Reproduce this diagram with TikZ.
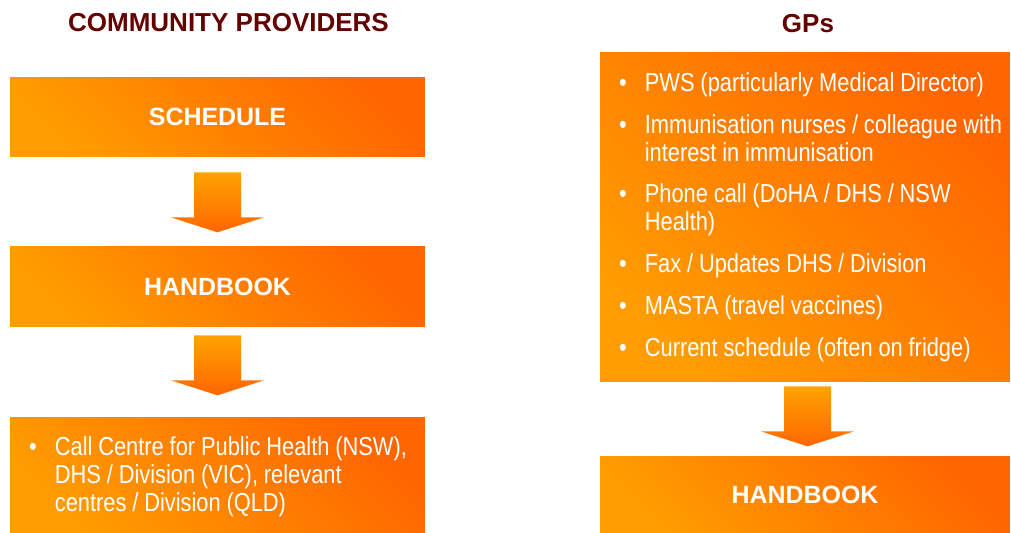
\documentclass[tikz,border=0pt]{standalone}
\usepackage{fontspec}
\setmainfont{Liberation Sans}
\newfontfamily\narrowfont[FakeStretch=0.84]{Liberation Sans}
\usetikzlibrary{calc}

\definecolor{lightorange}{HTML}{FF9C00}
\definecolor{darkorange}{HTML}{FF6600}
\definecolor{arrowtop}{HTML}{FFA300}
\definecolor{titlered}{HTML}{640000}

% white bullet list for the orange boxes
\newenvironment{boxlist}{%
  \narrowfont\fontsize{14.8pt}{15.9pt}\selectfont
  \begin{list}{\textbullet}{%
    \setlength{\leftmargin}{14.7pt}\setlength{\labelwidth}{14.7pt}%
    \setlength{\labelsep}{0pt}\setlength{\rightmargin}{-40pt}%
    \setlength{\itemsep}{7.9pt}%
    \setlength{\parsep}{0pt}\setlength{\topsep}{0pt}\setlength{\partopsep}{0pt}%
    \def\makelabel##1{##1\hfil}}}
  {\end{list}}

% block arrow pointing down
\tikzset{downarrow/.pic={
  \shade[top color=arrowtop, bottom color=darkorange]
    (-23.5,-30) -- (23.5,-30) -- (23.5,15) -- (46.5,15) -- (0,30)
    -- (-46.5,15) -- (-23.5,15) -- cycle;
}}

\begin{document}
\begin{tikzpicture}[x=0.02cm, y=-0.02cm]
		% Node style
		\tikzstyle{box} = [rectangle, inner sep=0pt, top color=darkorange, bottom color=lightorange, shading angle=-45]
		\tikzstyle{head} = [font=\bfseries\fontsize{14.2pt}{17pt}\selectfont, text=white]
		\tikzstyle{heading} = [font=\bfseries\fontsize{14.8pt}{18pt}\selectfont, text=titlered, anchor=base]
		\tikzstyle{listbox} = [box, inner xsep=0.38cm, inner ysep=0pt, text=white]
		
		\useasboundingbox (0,0) rectangle (1011,533);
		
		% Titles
		\node[heading] (provtitle) at (228.5,32) {COMMUNITY PROVIDERS};
		\node[heading] (gptitle) at (808,33) {GPs};
		
		% Nodes
		\node[box, head, minimum width=8.3cm, minimum height=1.6cm] (schedule) at (217.5,117) {SCHEDULE};
		\node[box, head, minimum width=8.3cm, minimum height=1.6cm, below of=schedule, node distance=3.4cm] (handbook) {HANDBOOK};
		\node[listbox, text width=7.54cm, minimum height=2.3cm, below of=handbook, node distance=3.77cm] (callcentre) {%
			\begin{boxlist}
				\item \mbox{Call Centre for Public Health (NSW),}\\ \mbox{DHS / Division (VIC), relevant}\\ \mbox{centres / Division (QLD)}
			\end{boxlist}\vspace*{3.4pt}};
		
		\node[listbox, text width=7.44cm, minimum height=6.6cm] (gpsources) at (805,217) {%
			\begin{boxlist}
				\item \mbox{PWS (particularly Medical Director)}
				\item \mbox{Immunisation nurses / colleague with}\\ \mbox{interest in immunisation}
				\item \mbox{Phone call (DoHA / DHS / NSW}\\ \mbox{Health)}
				\item \mbox{Fax / Updates DHS / Division}
				\item \mbox{MASTA (travel vaccines)}
				\item \mbox{Current schedule (often on fridge)}
			\end{boxlist}\vspace*{5pt}};
		\node[box, head, minimum width=8.2cm, minimum height=1.52cm, below of=gpsources, node distance=5.56cm] (gphandbook) {HANDBOOK};
		
		% Arrows
		\pic at ($(schedule.south)+(0,45)$) {downarrow};
		\pic at ($(handbook.south)+(0,38)$) {downarrow};
		\pic at ($(gpsources.south)+(2.5,34)$) {downarrow};
	\end{tikzpicture}
\end{document}
